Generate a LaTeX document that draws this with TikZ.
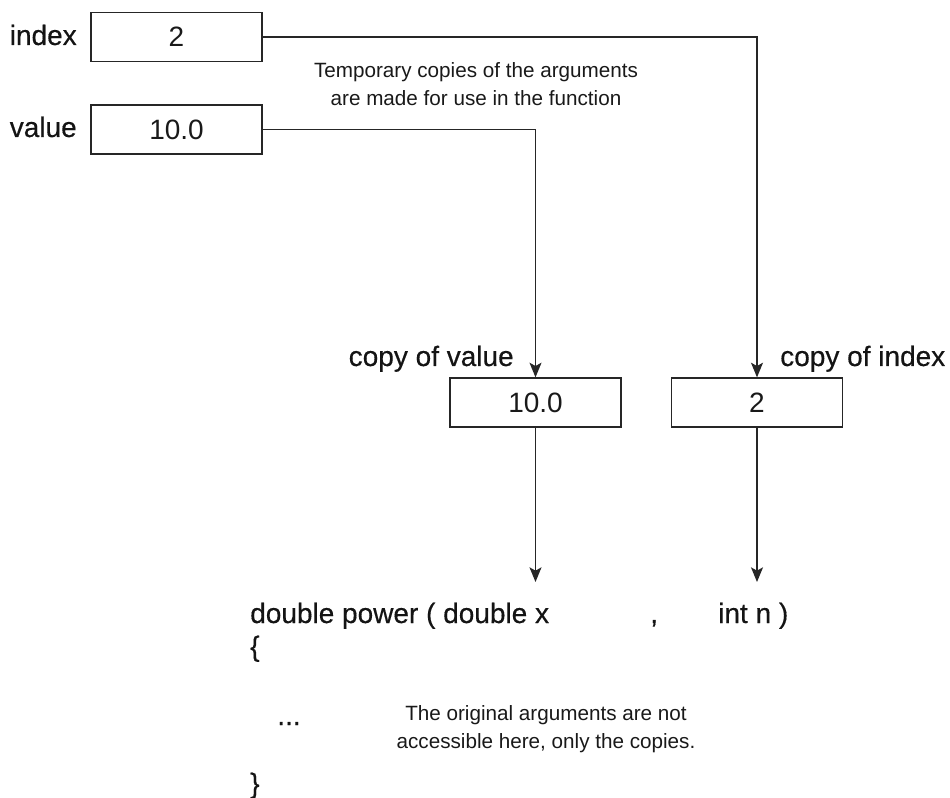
\documentclass[tikz,border=0pt]{standalone}
\usepackage{fontspec}
\setmainfont{Liberation Sans}
\newfontfamily\medfont[FakeBold=0.4]{Liberation Sans}
\usetikzlibrary{arrows.meta}
\begin{document}
\begin{tikzpicture}[x=0.75pt,y=-0.75pt,
  big/.style={font=\medfont\fontsize{21}{25}\selectfont, text=black!92, inner sep=0pt},
  small/.style={font=\fontsize{15.5}{20.5}\selectfont, text=black!90, inner sep=0pt, align=center},
  valbox/.style={draw=black!85, line width=1.2pt, minimum width=128.5pt, minimum height=36.5pt, inner sep=0pt, font=\fontsize{21}{25}\selectfont, text=black!90},
  conn/.style={draw=black!85, line width=1.1pt, -{Stealth[length=11pt,width=9pt,inset=2.5pt]}}]
\useasboundingbox (0,0) rectangle (950,798);

% original variables
\node[big, anchor=base east] (lidx) at (77,45) {index};
\node[valbox] (idx) at (176.5,37) {2};
\node[big, anchor=base east] (lval) at (77,137) {value};
\node[valbox] (val) at (176.5,129.5) {10.0};

\node[small] (temp) at (476,84) {Temporary copies of the arguments\\are made for use in the function};

% copies
\node[valbox] (cval) at (535.5,402.5) {10.0};
\node[valbox] (cidx) at (757,402.5) {2};
\node[big, anchor=base east] (lcval) at (514,366) {copy of value};
\node[big, anchor=base west] (lcidx) at (780,366) {copy of index};

\draw[conn] (idx.east) -| (cidx.north);
\draw[conn] (val.east) -| (cval.north);

\coordinate (xend) at (535.5,582);
\coordinate (nend) at (757,582);
\draw[conn] (cval.south) -- (xend);
\draw[conn] (cidx.south) -- (nend);

% function
\node[big, anchor=base west] (sig) at (250,623) {double power ( double x};
\node[big, anchor=base west] (comma) at (650,623) {,};
\node[big, anchor=base west] (intn) at (718,623) {int n )};
\node[big, anchor=base west] (lbrace) at (250,656) {\{};
\node[big, anchor=base west] (dots) at (277,725) {...};
\node[small] (orig) at (546,729) {The original arguments are not\\accessible here, only the copies.};
\node[big, anchor=base west] (rbrace) at (250,793) {\}};
\end{tikzpicture}
\end{document}
